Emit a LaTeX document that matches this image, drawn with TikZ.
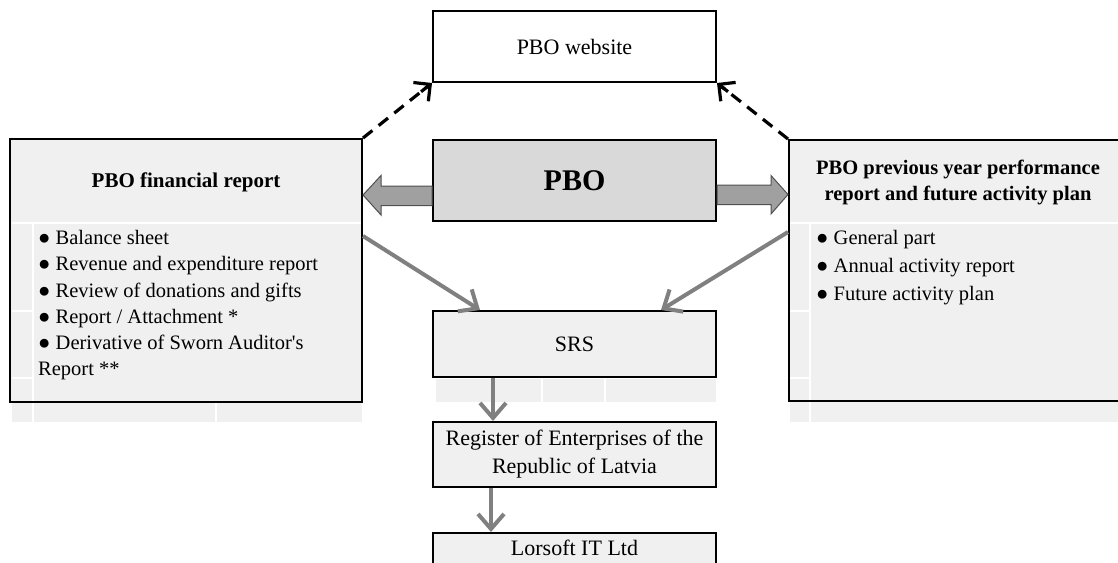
\documentclass[tikz,border=0pt]{standalone}
\usepackage{fontspec}
\setmainfont{Liberation Serif}[Ligatures=TeXOff]
\usetikzlibrary{arrows.meta,calc}
\definecolor{boxfill}{HTML}{F0F0F0}
\definecolor{pbofill}{HTML}{D9D9D9}
\definecolor{blockfill}{HTML}{A0A0A0}
\definecolor{blockdraw}{HTML}{505050}
\definecolor{flowgray}{HTML}{808080}
\begin{document}
\begin{tikzpicture}[x=1pt,y=-1pt,
  box/.style={draw=black,line width=2pt,fill=boxfill,rectangle,inner sep=0pt,minimum width=283pt},
  sidebox/.style={draw=black,line width=2pt,fill=boxfill,rectangle,inner sep=0pt},
  ctext/.style={font=\fontsize{22}{28}\selectfont,align=center},
  titletext/.style={inner sep=0pt,font=\fontsize{20.5}{26}\selectfont\bfseries,align=center},
  listtext/.style={inner sep=0pt,anchor=north west,align=left},
  webline/.style={draw=black,line width=3.2pt,dash pattern=on 12pt off 8pt},
  webtip/.style={draw=black,line width=3.2pt,solid,-{Straight Barb[length=12pt,width=24pt]}},
  flow/.style={draw=flowgray,line width=4pt,-{Straight Barb[length=15pt,width=26pt]}},
  blockarrow/.style={fill=blockfill,draw=blockdraw,line width=1pt,line join=miter},
  artifact/.style={draw=white,line width=1.2pt},
  strip/.style={fill=boxfill}
]
\useasboundingbox (0,0) rectangle (1118,562);

% faint table strips
\fill[strip] (12,402) rectangle (362,422);
\fill[strip] (790,402) rectangle (1118,422);
\fill[strip] (436,379) rectangle (716,402);
\draw[artifact] (33,402) -- (33,422);
\draw[artifact] (216,402) -- (216,422);
\draw[artifact] (810,402) -- (810,422);
\draw[artifact] (542,379) -- (542,402);
\draw[artifact] (605,379) -- (605,402);

% boxes
\node[box,fill=white,minimum height=71pt,ctext] (web) at (574.5,46.5) {PBO website};
\node[box,fill=pbofill,minimum height=81pt,font=\fontsize{30}{34}\selectfont\bfseries] (pbo) at (574.5,180.5) {PBO};
\node[sidebox,minimum width=352pt,minimum height=263pt] (fin) at (186,270.5) {};
\node[sidebox,minimum width=333pt,minimum height=261pt] (perf) at (955.5,270.5) {};
\node[box,minimum height=66pt,ctext] (srs) at (574.5,344) {SRS};
\node[box,minimum height=65pt,ctext] (reg) at (574.5,454.5) {Register of Enterprises of the\\Republic of Latvia};
\node[box,anchor=north,text height=22pt,text depth=24pt,ctext] (lor) at (574.5,532) {Lorsoft IT Ltd};

% faint cell lines inside side boxes
\draw[artifact] (11.5,223) -- (361,223);
\draw[artifact] (33,223) -- (33,401);
\draw[artifact] (11.5,311) -- (33,311);
\draw[artifact] (11.5,378) -- (33,378);
\draw[artifact] (790,223) -- (1118,223);
\draw[artifact] (810,223) -- (810,400);
\draw[artifact] (790,311) -- (810,311);
\draw[artifact] (790,378) -- (810,378);

% texts in side boxes
\node[titletext,font=\fontsize{21}{26}\selectfont\bfseries] (fintitle) at (186,182) {PBO financial report};
\node[titletext] (perftitle) at (958,182) {PBO previous year performance\\report and future activity plan};
\node[listtext,font=\fontsize{20.5}{26.3}\selectfont] (finlist) at (38,230)
  {● Balance sheet\\● Revenue and expenditure report\\● Review of donations and gifts\\● Report / Attachment *\\● Derivative of Sworn Auditor's\\Report **};
\node[listtext,font=\fontsize{20.5}{28}\selectfont] (perflist) at (816,230)
  {● General part\\● Annual activity report\\● Future activity plan};

% dashed arrows to website
\draw[webline] (fin.north east) -- ($(web.south west)!6pt!(fin.north east)$);
\draw[webtip] ($(web.south west)!14pt!(fin.north east)$) -- (web.south west);
\draw[webline] (perf.north west) -- ($(web.south east)!6pt!(perf.north west)$);
\draw[webtip] ($(web.south east)!14pt!(perf.north west)$) -- (web.south east);

% block arrows from PBO
\draw[blockarrow] ($(pbo.west)+(0,5.5)$) -- ++(-51,0) -- ++(0,-10.5) -- ($(fin.east)+(0,-75.5)$)
  -- ($(pbo.west)+(-51,34.5)$) -- ++(0,-9.5) -- ($(pbo.west)+(0,25)$) -- cycle;
\draw[blockarrow] ($(pbo.east)+(0,4.5)$) -- ++(54,0) -- ++(0,-9.5) -- ($(perf.west)+(0,-76)$)
  -- ($(pbo.east)+(54,33.5)$) -- ++(0,-9.5) -- ($(pbo.east)+(0,24)$) -- cycle;

% gray flow arrows
\draw[flow] ($(fin.north east)+(0,98)$) -- ($(srs.north west)+(48,0)$);
\draw[flow] ($(perf.north west)+(0,93)$) -- ($(srs.north east)+(-56,0)$);
\draw[flow] ($(srs.south west)+(61,0)$) -- ($(reg.north west)+(61,0)$);
\draw[flow] ($(reg.south west)+(59,0)$) -- ($(lor.north west)+(59,0)$);
\end{tikzpicture}
\end{document}
